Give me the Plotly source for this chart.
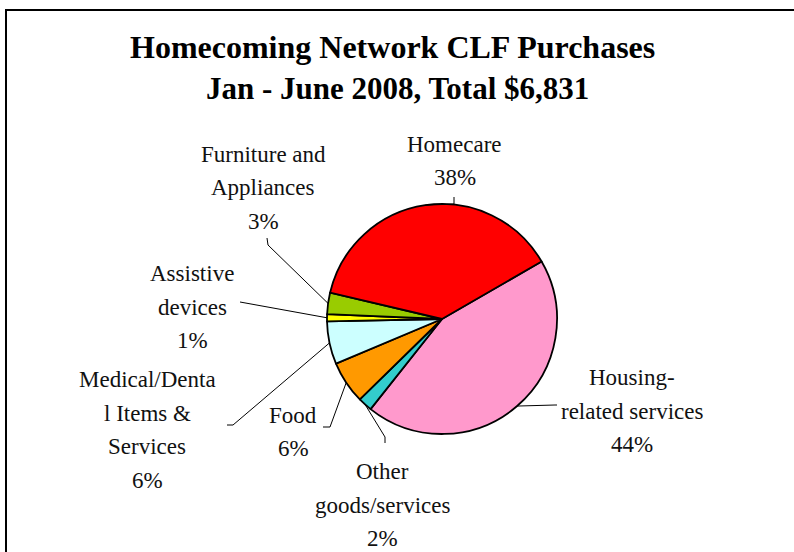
import math
import plotly.graph_objects as go

# Purchase categories, in drawing order (clockwise from the Housing slice)
categories = [
    "Housing-related services",
    "Other goods/services",
    "Food",
    "Medical/Dental Items & Services",
    "Assistive devices",
    "Furniture and Appliances",
    "Homecare",
]
shares_pct = [44, 2, 6, 6, 1, 3, 38]

# Label text lines (the percentage line is appended from the data)
label_lines = [
    ["Housing-", "related services"],
    ["Other", "goods/services"],
    ["Food"],
    ["Medical/Denta", "l Items &", "Services"],
    ["Assistive", "devices"],
    ["Furniture and", "Appliances"],
    ["Homecare"],
]

slice_colors = ["#FF99CC", "#33CCCC", "#FF9900", "#CCFFFF", "#FFFF00", "#99CC00", "#FF0000"]

W, H = 794, 552
FONT = "Liberation Serif"

# Pie geometry in pixels
CX, CY, R = 442, 319, 115
ROTATION = 60


def px(x):
    return x / W


def py(y):
    return 1 - y / H


# Label placement: centre x, centre y of the text block, and leader path
# points running from the label end toward the slice.
label_layout = [
    dict(x=632, y=411, path=[(557, 405), (555, 405)]),
    dict(x=382, y=505, path=[(385, 443), (385, 437)]),
    dict(x=293, y=432, path=[(323, 427), (330, 427)]),
    dict(x=147, y=430, path=[(227, 425), (233, 425)]),
    dict(x=192, y=307, path=[(240, 302)]),
    dict(x=263, y=188, path=[(267, 238), (268, 245)]),
    dict(x=455, y=161, path=[(454, 197), (454, 204)]),
]

LINE_PITCH = 33.5
FONT_SIZE = 23

fig = go.Figure()
fig.add_trace(
    go.Pie(
        labels=categories,
        values=shares_pct,
        sort=False,
        direction="clockwise",
        rotation=ROTATION,
        marker=dict(colors=slice_colors, line=dict(color="#000000", width=1.8)),
        textinfo="none",
        hoverinfo="label+percent",
        showlegend=False,
        domain=dict(x=[px(CX - R), px(CX + R)], y=[py(CY + R), py(CY - R)]),
    )
)

annotations = []
shapes = []

# Slice mid-angles (clockwise from 12 o'clock) give the leader anchor points
total = sum(shares_pct)
start = ROTATION
for i, v in enumerate(shares_pct):
    sweep = 360 * v / total
    mid = math.radians(start + sweep / 2)
    start += sweep
    ax = CX + R * math.sin(mid)
    ay = CY - R * math.cos(mid)

    lay = label_layout[i]
    lines = label_lines[i] + [f"{v}%"]
    n = len(lines)
    top = lay["y"] - (n - 1) * LINE_PITCH / 2
    for k, t in enumerate(lines):
        annotations.append(
            dict(
                x=px(lay["x"]), y=py(top + k * LINE_PITCH),
                xref="paper", yref="paper",
                text=t, showarrow=False,
                xanchor="center", yanchor="middle",
                font=dict(family=FONT, size=FONT_SIZE, color="#111111"),
            )
        )

    pts = lay["path"] + [(ax, ay)]
    d = "M " + " L ".join(f"{px(x)} {py(y)}" for x, y in pts)
    shapes.append(
        dict(type="path", path=d, xref="paper", yref="paper",
             line=dict(color="#000000", width=1))
    )

# Chart title
annotations.append(
    dict(
        x=px(392), y=py(47), xref="paper", yref="paper",
        text="<b>Homecoming Network CLF Purchases</b>", showarrow=False,
        xanchor="center", yanchor="middle",
        font=dict(family=FONT, size=32, color="#000000"),
    )
)
annotations.append(
    dict(
        x=px(397), y=py(88), xref="paper", yref="paper",
        text="<b>Jan - June 2008, Total $6,831</b>", showarrow=False,
        xanchor="center", yanchor="middle",
        font=dict(family=FONT, size=31, color="#000000"),
    )
)

# Chart area frame
shapes.append(
    dict(type="rect", xref="paper", yref="paper",
         x0=px(6), y0=-0.2, x1=1.2, y1=py(10),
         line=dict(color="#000000", width=2), layer="below")
)

fig.update_layout(
    width=W, height=H,
    margin=dict(l=0, r=0, t=0, b=0),
    paper_bgcolor="#FFFFFF",
    plot_bgcolor="#FFFFFF",
    annotations=annotations,
    shapes=shapes,
)

fig.write_html("out.html")
